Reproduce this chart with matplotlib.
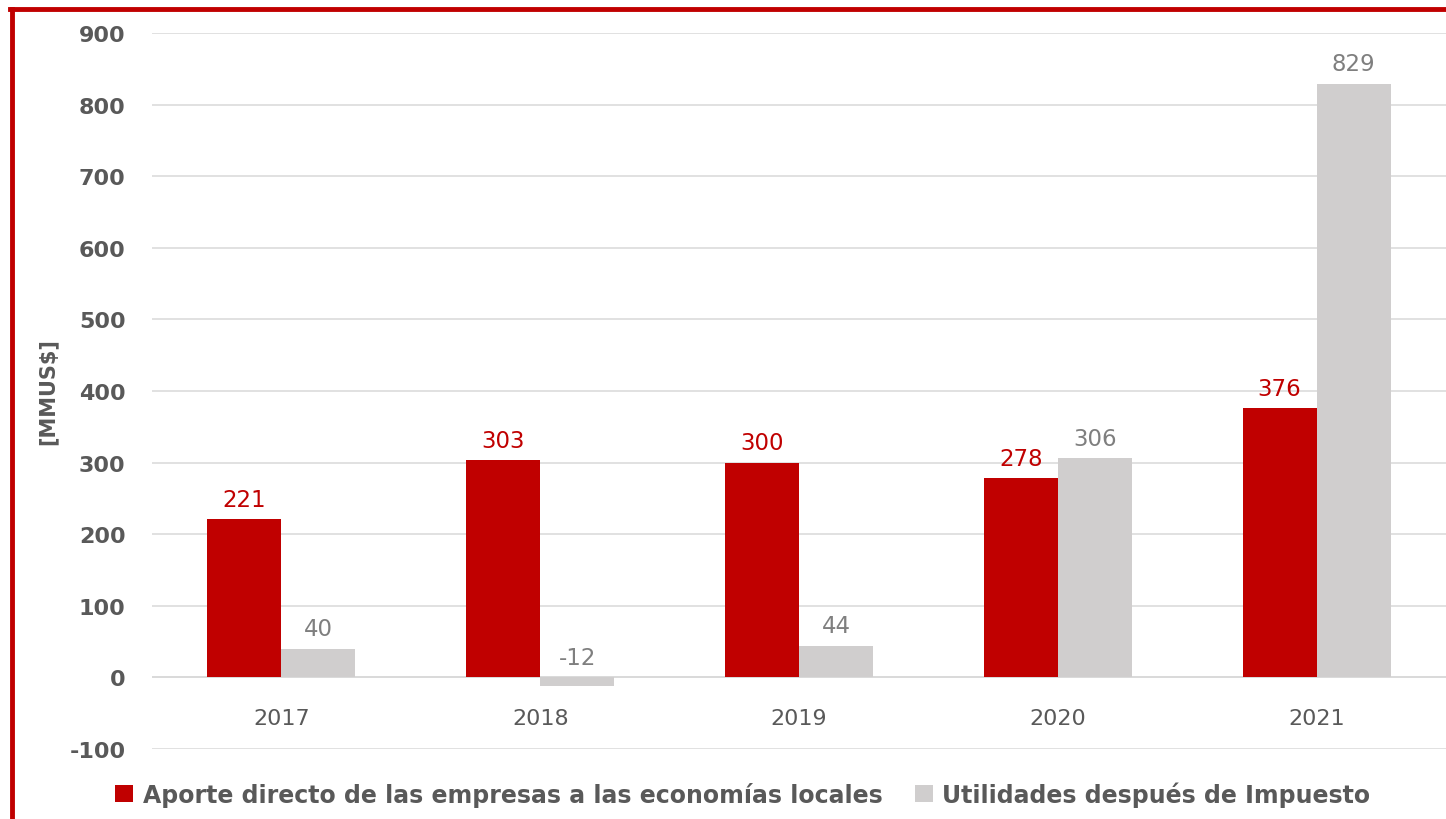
import matplotlib
matplotlib.use("Agg")
import matplotlib.pyplot as plt
import numpy as np
from matplotlib.lines import Line2D
from matplotlib.patches import Patch

years = ["2017", "2018", "2019", "2020", "2021"]
aporte = [221, 303, 300, 278, 376]
utilidades = [40, -12, 44, 306, 829]
series_names = ["Aporte directo de las empresas a las economías locales",
                "Utilidades después de Impuesto"]
yticks = [-100, 0, 100, 200, 300, 400, 500, 600, 700, 800, 900]

RED = "#C00000"
GRAY = "#D0CECE"
TXT = "#595959"

plt.rcParams['font.family'] = ['DejaVu Sans']
fig = plt.figure(figsize=(14.46, 8.2), dpi=100)
ax = fig.add_axes([152/1446, 1-750/820, (1446-152)/1446, (750-34)/820])

x = np.arange(len(years))
w = 0.286
ax.bar(x - w/2, aporte, w, color=RED, zorder=3)
ax.bar(x + w/2, utilidades, w, color=GRAY, zorder=3)

for xi, v in zip(x, aporte):
    ax.text(xi - w/2, v + 12, f"{v}", ha="center", va="bottom", color=RED, fontsize=16.5)
for xi, v in zip(x, utilidades):
    y = max(v, 0)
    ax.text(xi + w/2, y + 12, f"{v}", ha="center", va="bottom", color="#7F7F7F", fontsize=16.5)

ax.set_xlim(-0.5, 4.5)
ax.set_ylim(-100, 900)
ax.set_yticks(yticks)
ax.set_yticklabels([str(t) for t in yticks], fontsize=16, fontweight="bold", color=TXT)
ax.yaxis.grid(True, color="#D9D9D9", linewidth=1.1, zorder=0)
ax.set_axisbelow(True)
ax.set_xticks(x)
ax.set_xticklabels([])
ax.tick_params(axis="both", length=0)
ax.tick_params(axis="y", pad=19)
for s in ax.spines.values():
    s.set_visible(False)
ax.axhline(0, color="#D9D9D9", linewidth=1.1, zorder=1)

for xi, yr in zip(x, years):
    ax.annotate(yr, xy=(xi, 0), xycoords="data", xytext=(0, -22), textcoords="offset points",
                ha="center", va="top", fontsize=16, color=TXT)

fig.text(48/1446, 1-392/820, "[MMUS$]", rotation=90, ha="center", va="center",
         fontsize=15, fontweight="bold", color=TXT)

handles = [Patch(facecolor=RED, edgecolor="none"), Patch(facecolor=GRAY, edgecolor="none")]
fig.legend(handles, series_names, loc="center", bbox_to_anchor=(743/1446, 1-795/820),
           ncol=2, frameon=False, prop={"size": 17, "weight": "bold"},
           labelcolor=TXT, handlelength=0.75, handleheight=0.75, handletextpad=0.4,
           columnspacing=1.4)

fig.add_artist(Line2D([10/1446, 1], [1-10/820, 1-10/820], color=RED, linewidth=3.5, transform=fig.transFigure))
fig.add_artist(Line2D([12/1446, 12/1446], [0, 1-10/820], color=RED, linewidth=3.5, transform=fig.transFigure))

fig.savefig("out.png", dpi=100)
